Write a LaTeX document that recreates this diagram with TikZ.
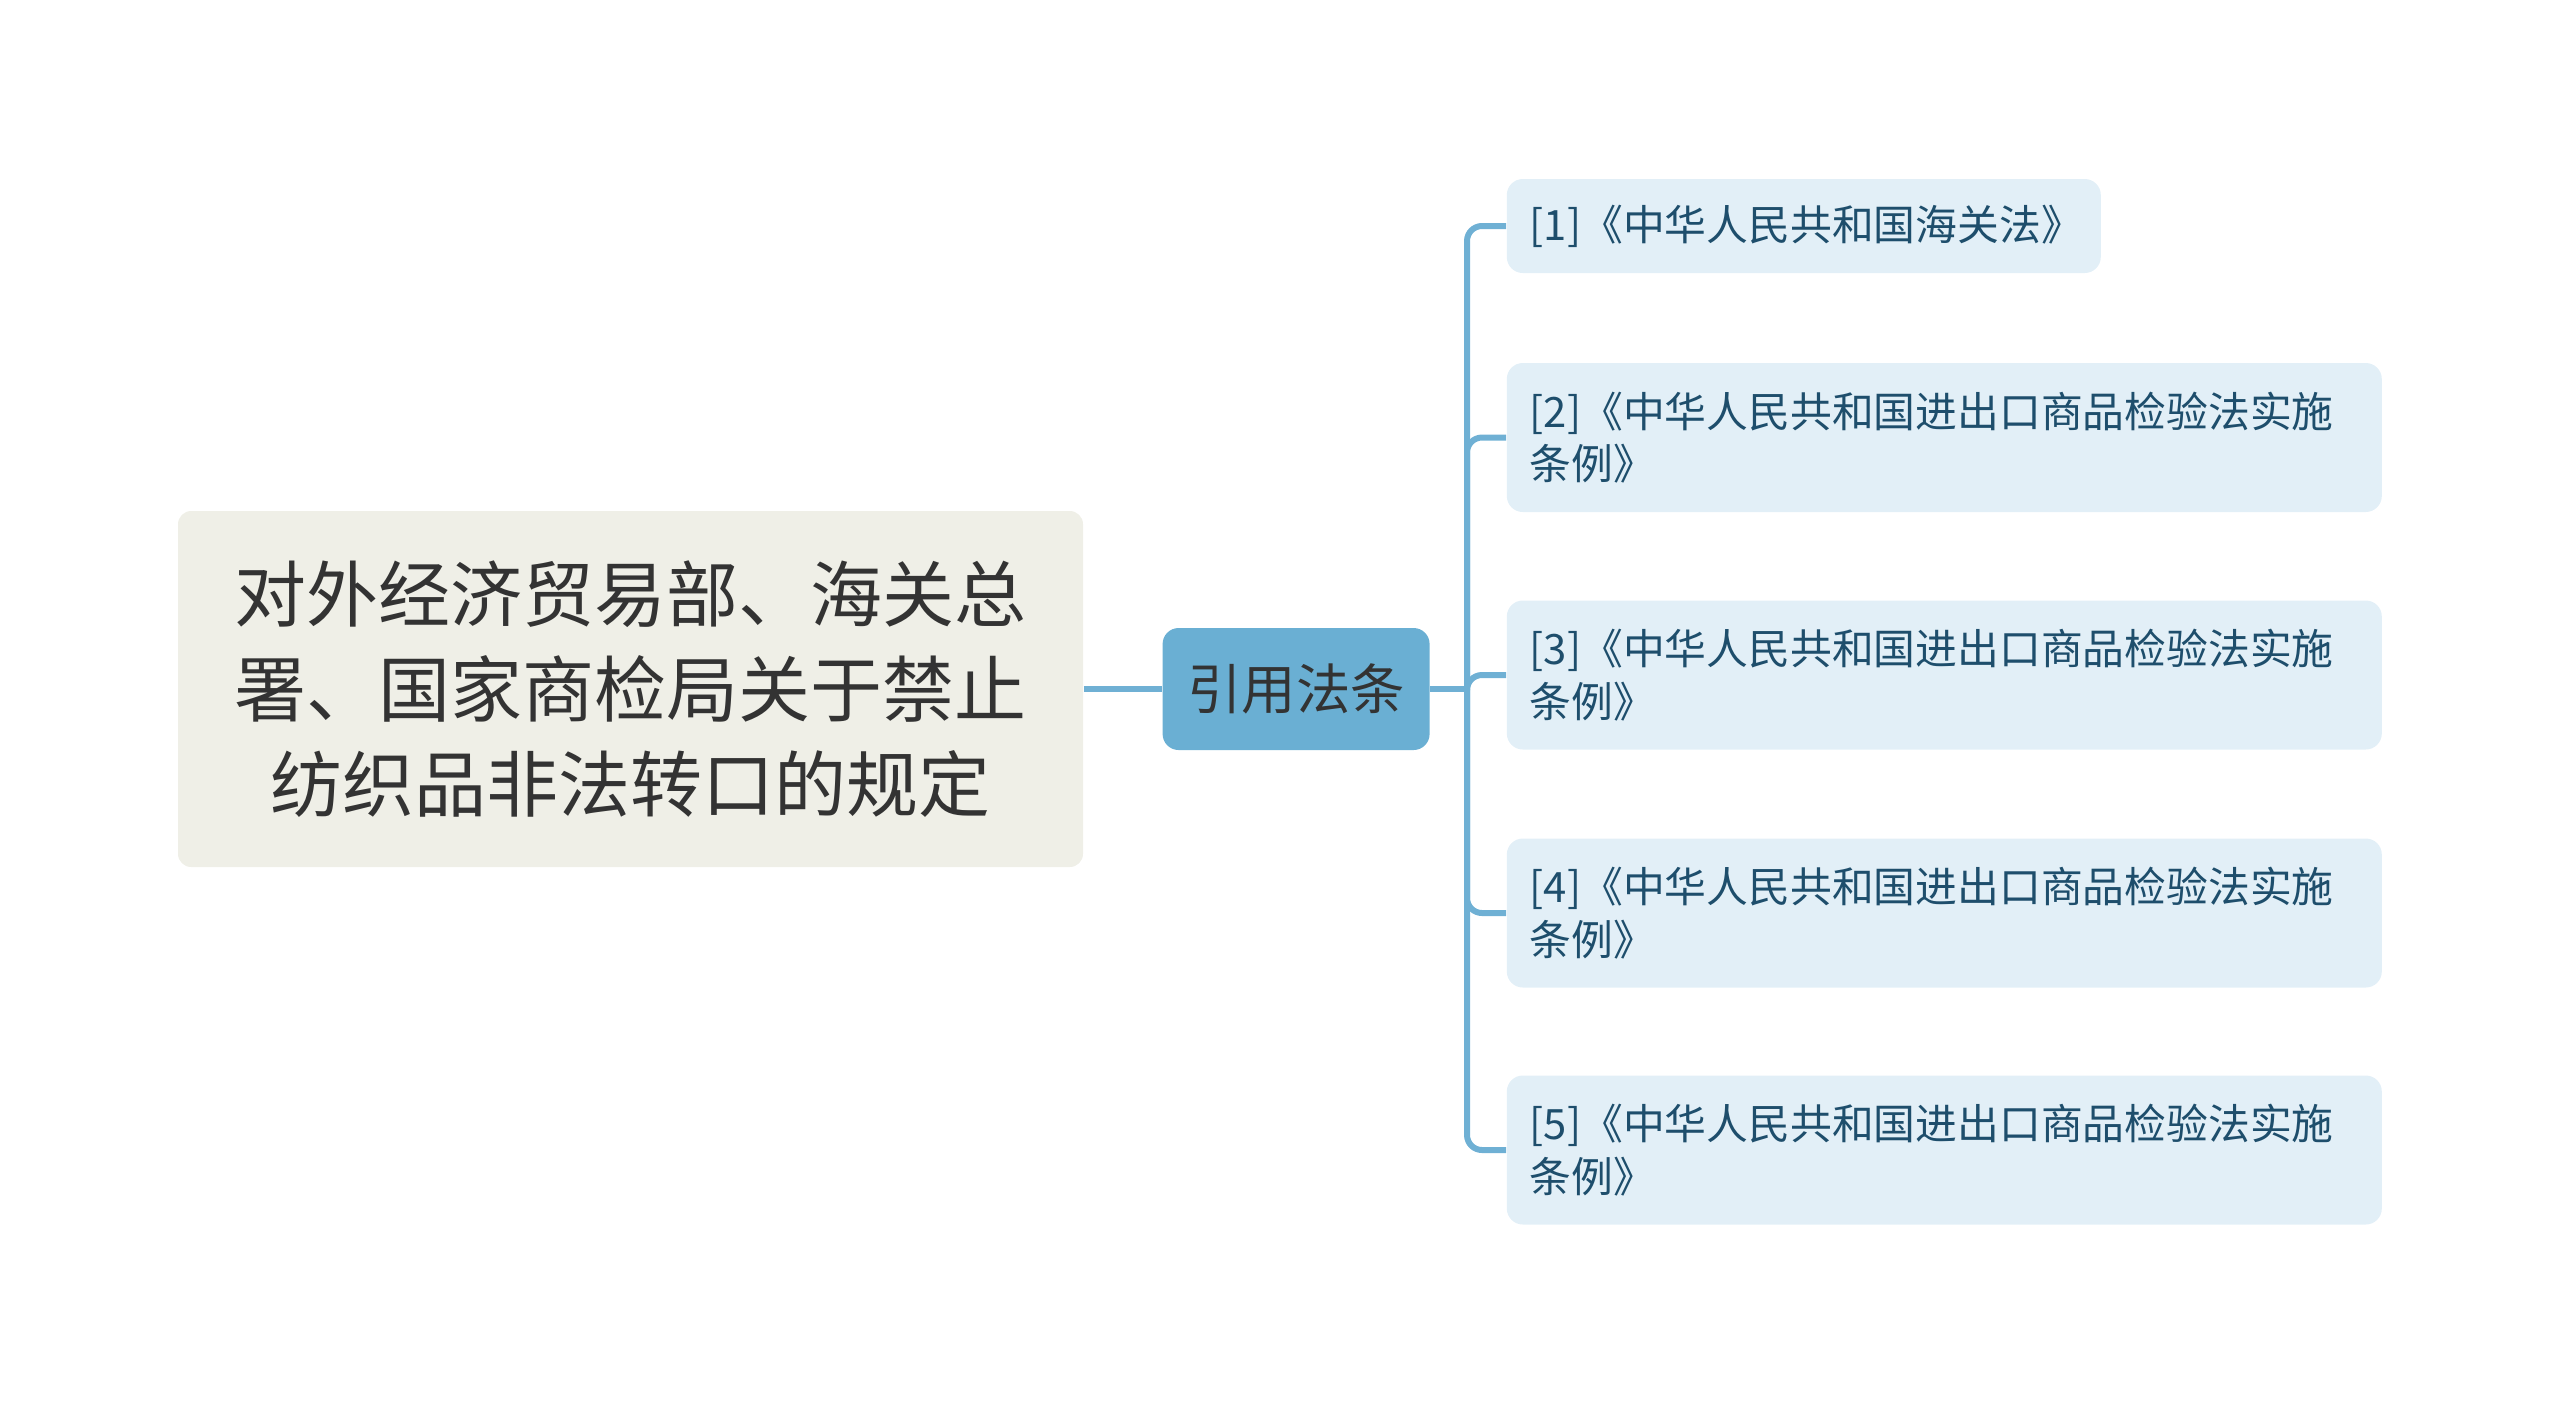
\documentclass[tikz,border=0pt]{standalone}
\usepackage{fontspec}
\setmainfont{Noto Sans CJK SC}
\usepackage{tikz}
\usetikzlibrary{positioning}

\definecolor{rootfill}{HTML}{EFEFE7}
\definecolor{citefill}{HTML}{6AAFD3}
\definecolor{linkcol}{HTML}{6FB0D4}
\definecolor{reffill}{HTML}{E2EFF7}
\definecolor{reftext}{HTML}{1E4E6C}

\begin{document}
\begin{tikzpicture}[x=0.25pt,y=-0.25pt,
    topic/.style={rectangle,rounded corners=3.3pt,fill=rootfill,text=black!80,
      minimum width=226.25pt,minimum height=89pt,align=center,
      font=\fontsize{18pt}{23.75pt}\selectfont},
    cite/.style={rectangle,rounded corners=4pt,fill=citefill,text=black!80,
      minimum width=66.75pt,minimum height=30.5pt,inner sep=0pt,
      font=\fontsize{13.6pt}{16pt}\selectfont},
    ref/.style={rectangle,rounded corners=4pt,fill=reffill,text=reftext,
      anchor=west,align=left,inner xsep=5.75pt,inner ysep=0pt,
      font=\fontsize{10.45pt}{13.1pt}\selectfont},
    short/.style={ref,text width=137pt,minimum height=23.5pt},
    long/.style={ref,text width=207.25pt,minimum height=37.25pt},
    link/.style={draw=linkcol,line width=1.5pt,rounded corners=3.75pt}]
    \useasboundingbox (0,0) rectangle (2560,1405);

    \node[topic] (root) at (630.5,689)
      {对外经济贸易部、海关总\\署、国家商检局关于禁止\\纺织品非法转口的规定};
    \node[cite] (cite) [right=19.5pt of root] {引用法条};

    \node[short] (ref1) at (1506,226)    {[1]《中华人民共和国海关法》};
    \node[long]  (ref2) at (1506,437.5)  {[2]《中华人民共和国进出口商品检验法实施\\条例》};
    \node[long]  (ref3) at (1506,675)    {[3]《中华人民共和国进出口商品检验法实施\\条例》};
    \node[long]  (ref4) at (1506,913)    {[4]《中华人民共和国进出口商品检验法实施\\条例》};
    \node[long]  (ref5) at (1506,1150)   {[5]《中华人民共和国进出口商品检验法实施\\条例》};

    \coordinate (fork) at (1467,689);
    \path[link]
    (root) -- (cite)
    (cite) -- (fork);
    \draw[link] (fork) |- (ref1.west);
    \draw[link] (fork) |- (ref2.west);
    \draw[link] (fork) |- (ref3.west);
    \draw[link] (fork) |- (ref4.west);
    \draw[link] (fork) |- (ref5.west);
  \end{tikzpicture}
\end{document}
